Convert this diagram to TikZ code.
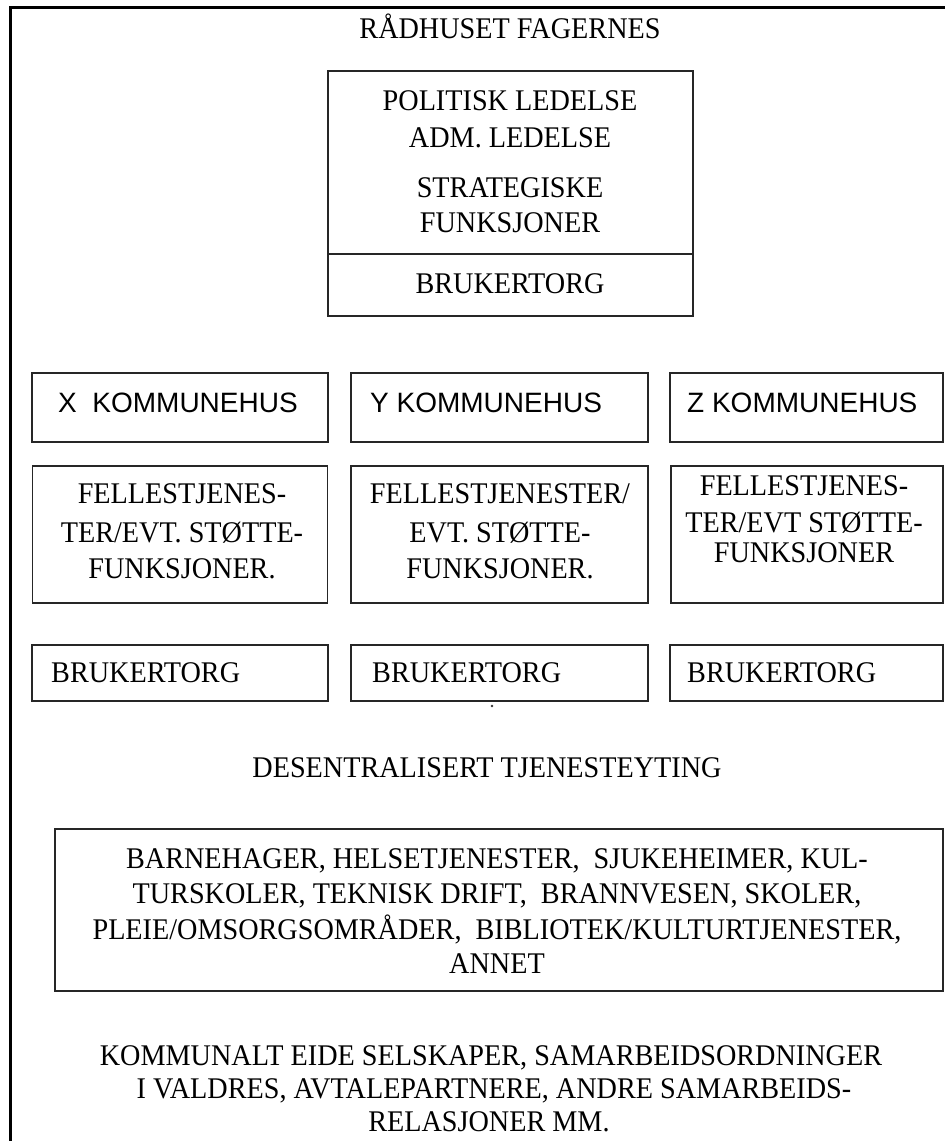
\documentclass[tikz,border=0pt]{standalone}
\usepackage{fontspec}
\setmainfont[FakeStretch=0.94]{Liberation Serif}
\setsansfont{Liberation Sans}
\begin{document}
\begin{tikzpicture}[x=1pt,y=-1pt,
  boxst/.style={draw=black!85, line width=1.6pt, inner sep=0pt},
  txt/.style={font=\fontsize{30}{36}\selectfont, inner sep=0pt, anchor=base},
  txtl/.style={txt, anchor=base west},
  stxt/.style={font=\sffamily\fontsize{28}{34}\selectfont, inner sep=0pt, anchor=base west},
  framest/.style={line width=3.5pt, draw=black}
]
\useasboundingbox (0,0) rectangle (945,1141);
\fill[white] (0,0) rectangle (945,1141);
% outer frame (left and top sides)
\coordinate (fbl) at (10.5,1145);
\coordinate (ftl) at (10.5,7.5);
\coordinate (ftr) at (950,7.5);
\draw[framest] (fbl) -- (ftl) -- (ftr);

% title
\node[txt] (title) at (510,38) {RÅDHUSET FAGERNES};

% top box
\node[boxst, minimum width=365, minimum height=245] (top) at (510.5,193.5) {};
\coordinate (divl) at (328,254);
\coordinate (divr) at (693,254);
\draw[draw=black!85, line width=1.6pt] (divl) -- (divr);
\node[txt] (t1) at (510,110) {POLITISK LEDELSE};
\node[txt] (t2) at (510,147) {ADM. LEDELSE};
\node[txt] (t3) at (510,197) {STRATEGISKE};
\node[txt] (t4) at (510,232) {FUNKSJONER};
\node[txt] (t5) at (510,293) {BRUKERTORG};

% kommunehus row
\node[boxst, minimum width=296, minimum height=69] (kx) at (180,407.5) {};
\node[boxst, minimum width=297, minimum height=69] (ky) at (499.5,407.5) {};
\node[boxst, minimum width=273, minimum height=69] (kz) at (806.5,407.5) {};
\node[stxt] (kxt) at (58,412) {X\ \ KOMMUNEHUS};
\node[stxt] (kyt) at (370,412) {Y KOMMUNEHUS};
\node[stxt] (kzt) at (687,412) {Z KOMMUNEHUS};

% fellestjenester row
\node[boxst, minimum width=295, minimum height=137] (fx) at (180,534.5) {};
\node[boxst, minimum width=297, minimum height=137] (fy) at (499.5,534.5) {};
\node[boxst, minimum width=272, minimum height=137] (fz) at (807,534.5) {};
\node[txt] (fx1) at (182,503) {FELLESTJENES-};
\node[txt] (fx2) at (182,542) {TER/EVT. STØTTE-};
\node[txt] (fx3) at (182,578) {FUNKSJONER.};
\node[txt] (fy1) at (500,503) {FELLESTJENESTER/};
\node[txt] (fy2) at (500,542) {EVT. STØTTE-};
\node[txt] (fy3) at (500,578) {FUNKSJONER.};
\node[txt] (fz1) at (804,495) {FELLESTJENES-};
\node[txt] (fz2) at (804,532) {TER/EVT STØTTE-};
\node[txt] (fz3) at (804,562) {FUNKSJONER};

% brukertorg row
\node[boxst, minimum width=296, minimum height=56] (bx) at (180,673) {};
\node[boxst, minimum width=297, minimum height=56] (by) at (499.5,673) {};
\node[boxst, minimum width=273, minimum height=56] (bz) at (806.5,673) {};
\node[txtl] (bxt) at (51,682) {BRUKERTORG};
\node[txtl] (byt) at (372,682) {BRUKERTORG};
\node[txtl] (bzt) at (687,682) {BRUKERTORG};
\fill[black!80] (492,706) circle (1.3);

% desentralisert
\node[txt] (des) at (487,777) {DESENTRALISERT TJENESTEYTING};

% services box
\node[boxst, minimum width=888, minimum height=162] (svc) at (499,910) {};
\node[txt] (s1) at (497,868) {BARNEHAGER, HELSETJENESTER,\ \ SJUKEHEIMER, KUL-};
\node[txt] (s2) at (497,903) {TURSKOLER, TEKNISK DRIFT,\ \ BRANNVESEN, SKOLER,};
\node[txt] (s3) at (497,939) {PLEIE/OMSORGSOMRÅDER,\ \ BIBLIOTEK/KULTURTJENESTER,};
\node[txt] (s4) at (497,973) {ANNET};

% bottom text
\node[txt] (k1) at (491,1065) {KOMMUNALT EIDE SELSKAPER, SAMARBEIDSORDNINGER};
\node[txt] (k2) at (494,1098) {I VALDRES, AVTALEPARTNERE, ANDRE SAMARBEIDS-};
\node[txt] (k3) at (489,1131) {RELASJONER MM.};
\end{tikzpicture}
\end{document}
